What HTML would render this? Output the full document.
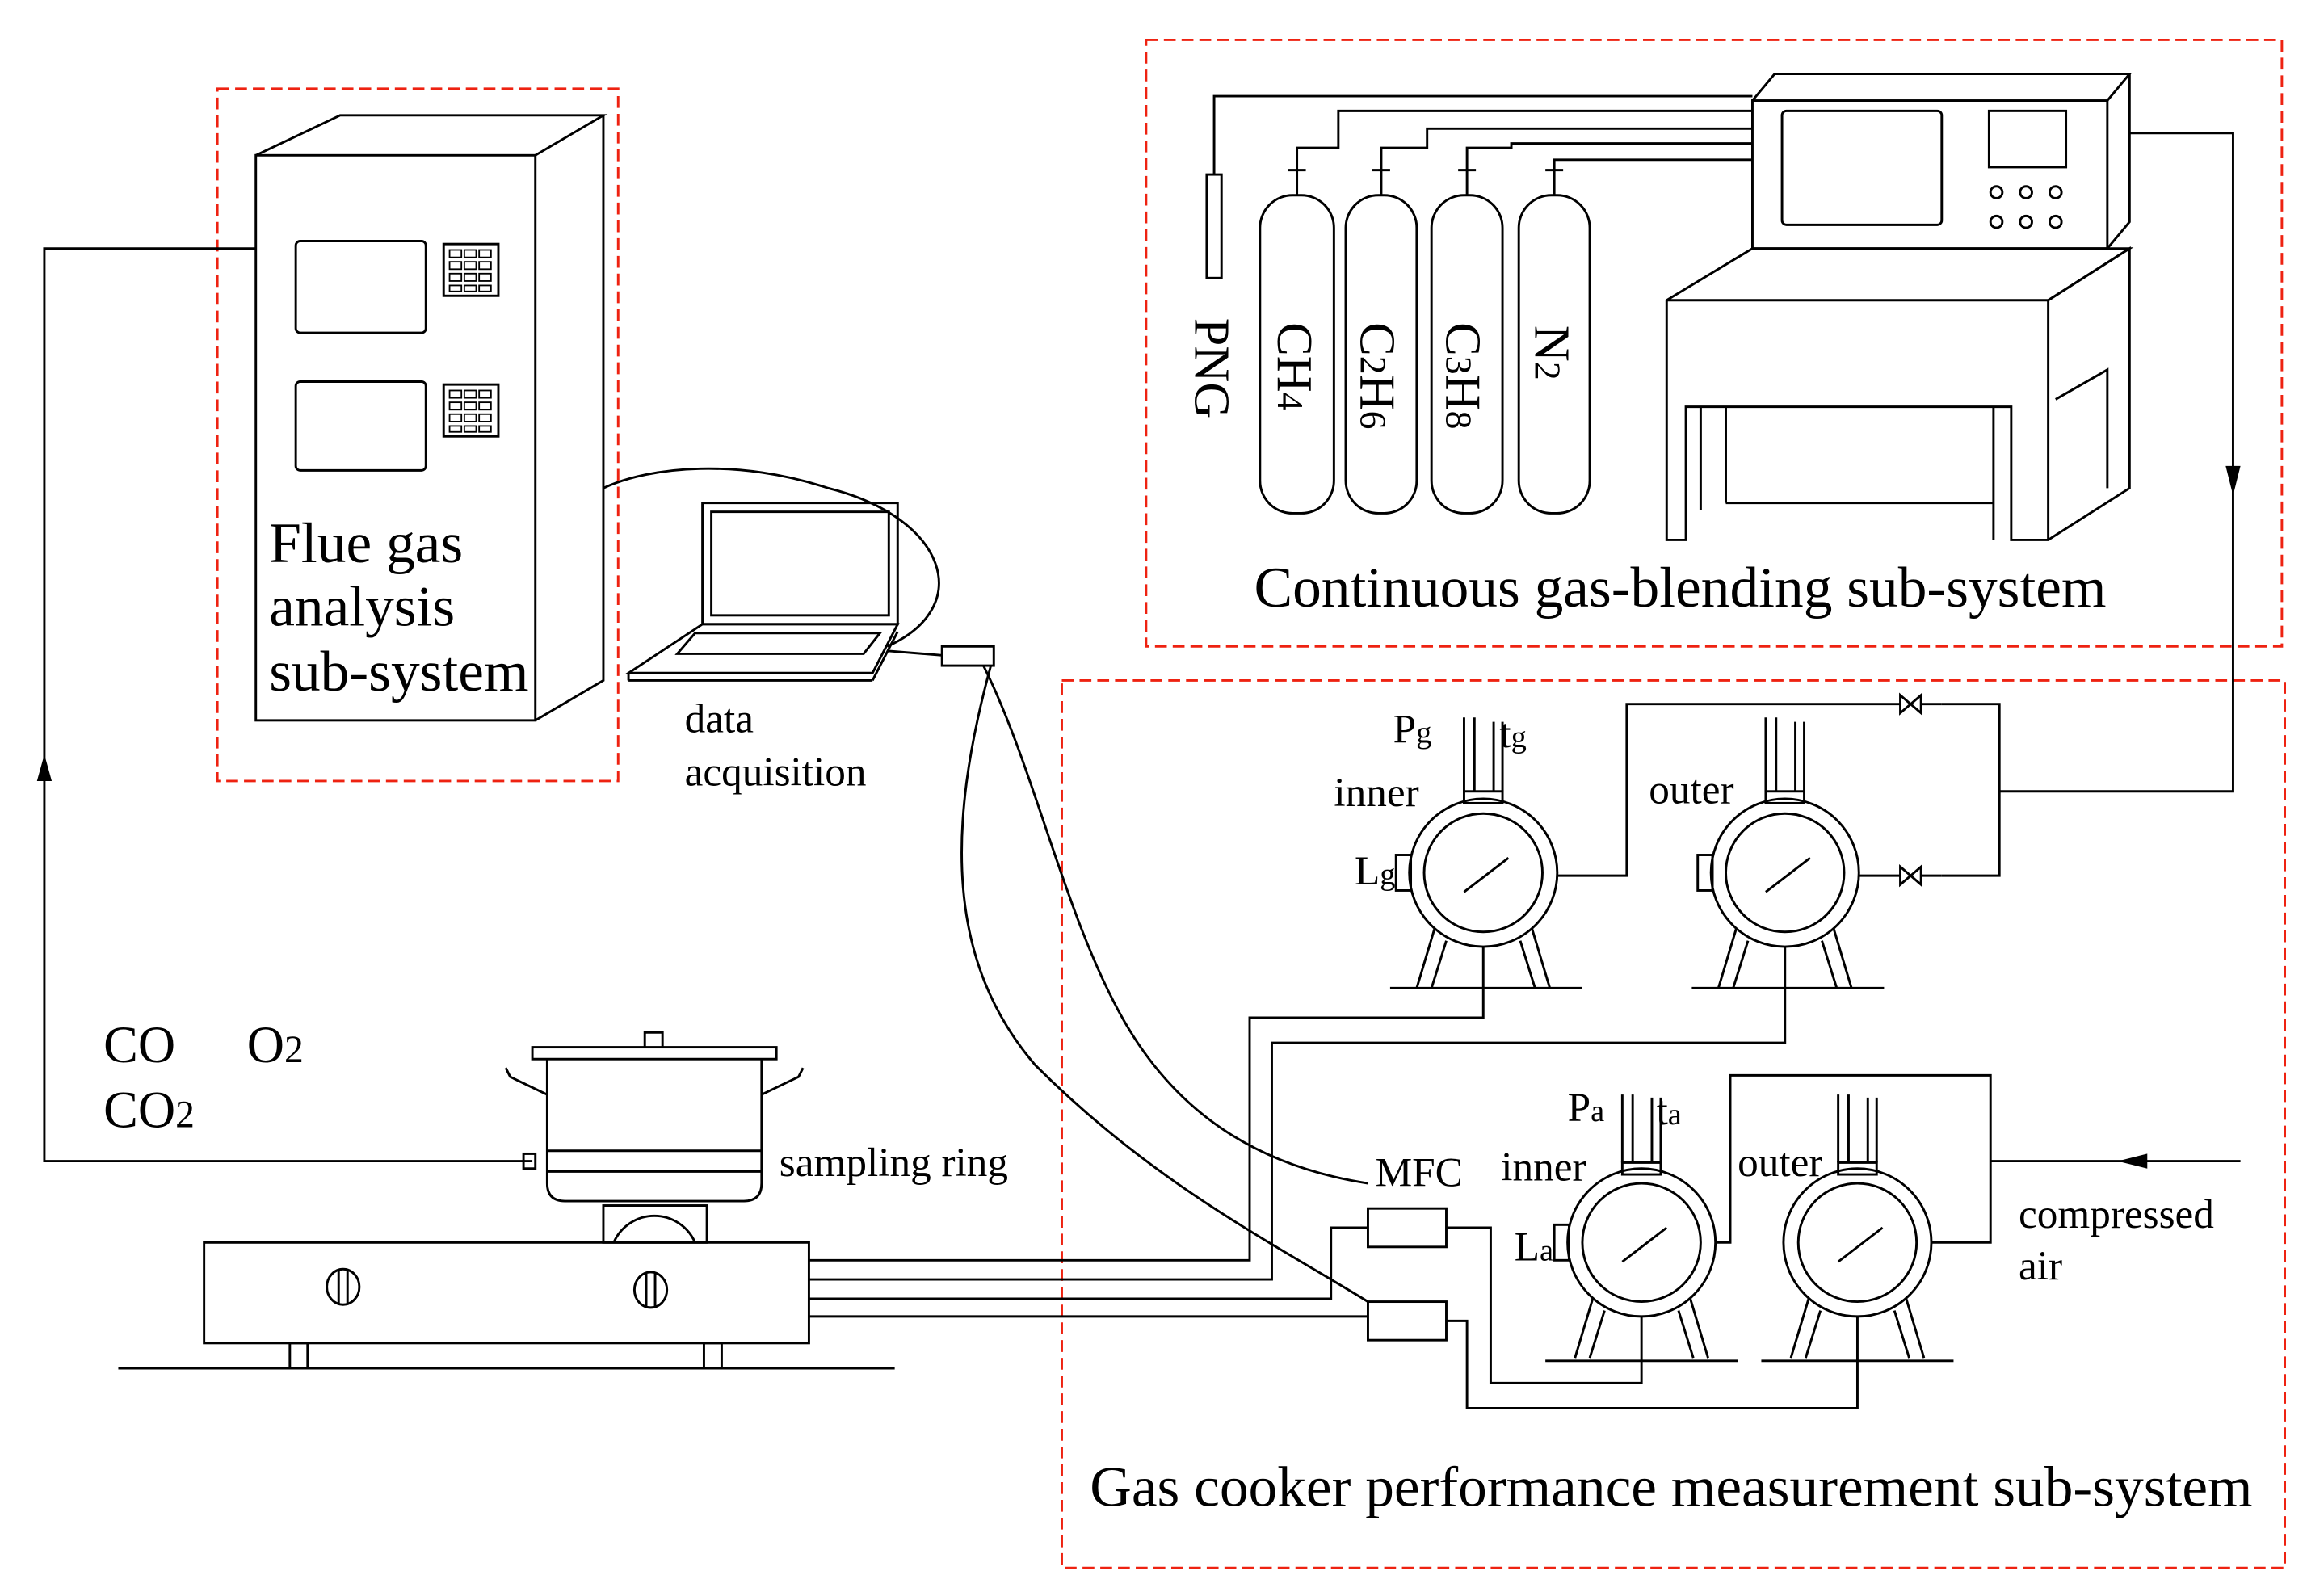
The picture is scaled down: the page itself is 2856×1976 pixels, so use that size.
<!DOCTYPE html>
<html><head><meta charset="utf-8"><style>
html,body{margin:0;padding:0;background:#fff}
svg{display:block}
text{font-family:"Liberation Serif",serif;fill:#000}
</style></head><body>
<svg width="2856" height="1976" viewBox="0 0 1560 1079" preserveAspectRatio="none" xmlns="http://www.w3.org/2000/svg">
<rect width="1560" height="1079" fill="#fff"/>
<g fill="none" stroke="#e21" stroke-width="1.6" stroke-dasharray="8,4">
<rect x="147" y="60" width="271" height="468"/>
<rect x="775" y="27" width="768" height="410"/>
<rect x="718" y="460" width="827" height="600"/>
</g>
<g fill="none" stroke="#000" stroke-width="1.6">
<rect x="173" y="105" width="189" height="382"/>
<polyline points="173,105 230,78 408,78 362,105"/>
<polyline points="408,78 408,460 362,487"/>
<rect x="200" y="163" width="88" height="62" rx="3"/>
<rect x="200" y="258" width="88" height="60" rx="3"/>
<rect x="300" y="165" width="37" height="35"/>
<rect x="300" y="260" width="37" height="35"/>
</g>
<g fill="none" stroke="#000" stroke-width="1">
<rect x="304" y="169" width="8" height="5"/><rect x="314" y="169" width="8" height="5"/><rect x="324" y="169" width="8" height="5"/>
<rect x="304" y="177" width="8" height="5"/><rect x="314" y="177" width="8" height="5"/><rect x="324" y="177" width="8" height="5"/>
<rect x="304" y="185" width="8" height="5"/><rect x="314" y="185" width="8" height="5"/><rect x="324" y="185" width="8" height="5"/>
<rect x="304" y="193" width="8" height="4"/><rect x="314" y="193" width="8" height="4"/><rect x="324" y="193" width="8" height="4"/>
<rect x="304" y="264" width="8" height="5"/><rect x="314" y="264" width="8" height="5"/><rect x="324" y="264" width="8" height="5"/>
<rect x="304" y="272" width="8" height="5"/><rect x="314" y="272" width="8" height="5"/><rect x="324" y="272" width="8" height="5"/>
<rect x="304" y="280" width="8" height="5"/><rect x="314" y="280" width="8" height="5"/><rect x="324" y="280" width="8" height="5"/>
<rect x="304" y="288" width="8" height="4"/><rect x="314" y="288" width="8" height="4"/><rect x="324" y="288" width="8" height="4"/>
</g>
<g fill="none" stroke="#000" stroke-width="1.6">
<polyline points="173,168 30,168 30,785 360,785"/>
<path d="M408,330 C440,315 500,310 560,330 C640,350 660,410 600,437"/>
<rect x="475" y="340" width="132" height="82"/>
<rect x="481" y="346" width="120" height="70"/>
<polygon points="475,422 607,422 590,455 425,455"/>
<line x1="425" y1="455" x2="425" y2="460"/><line x1="425" y1="460" x2="590" y2="460"/><line x1="590" y1="460" x2="607" y2="427"/>
<polygon points="470,428 595,428 584,442 458,442"/>
<line x1="600" y1="440" x2="637" y2="443"/>
<rect x="637" y="437" width="35" height="13"/>
<path d="M665,450 C700,520 720,620 760,690 C800,760 860,790 925,800"/>
<path d="M670,450 C640,560 640,650 700,720 C780,800 860,840 925,880"/>
<rect x="852" y="132" width="50" height="215" rx="22"/>
<rect x="910" y="132" width="48" height="215" rx="22"/>
<rect x="968" y="132" width="48" height="215" rx="22"/>
<rect x="1027" y="132" width="48" height="215" rx="22"/>
<line x1="877" y1="132" x2="877" y2="115"/><line x1="934" y1="132" x2="934" y2="115"/><line x1="992" y1="132" x2="992" y2="115"/><line x1="1051" y1="132" x2="1051" y2="115"/>
<line x1="871" y1="115" x2="883" y2="115"/><line x1="928" y1="115" x2="940" y2="115"/><line x1="986" y1="115" x2="998" y2="115"/><line x1="1045" y1="115" x2="1057" y2="115"/>
<rect x="816" y="118" width="10" height="70"/>
<polyline points="821,118 821,65 1185,65"/>
<polyline points="877,115 877,100 905,100 905,75 1185,75"/>
<polyline points="934,115 934,100 965,100 965,87 1185,87"/>
<polyline points="992,115 992,100 1022,100 1022,97 1185,97"/>
<polyline points="1051,115 1051,108 1185,108"/>
<rect x="1185" y="68" width="240" height="100"/>
<polyline points="1185,68 1200,50 1440,50 1425,68"/>
<polyline points="1440,50 1440,150 1425,168"/>
<rect x="1205" y="75" width="108" height="77" rx="3"/>
<rect x="1345" y="75" width="52" height="38"/>
<circle cx="1350" cy="130" r="4"/><circle cx="1370" cy="130" r="4"/><circle cx="1390" cy="130" r="4"/>
<circle cx="1350" cy="150" r="4"/><circle cx="1370" cy="150" r="4"/><circle cx="1390" cy="150" r="4"/>
<polyline points="1127,203 1185,168 1440,168 1385,203 1127,203"/>
<polyline points="1127,203 1127,365 1140,365 1140,275 1360,275 1360,365 1385,365 1385,203"/>
<line x1="1150" y1="275" x2="1150" y2="345"/><line x1="1167" y1="275" x2="1167" y2="340"/>
<line x1="1167" y1="340" x2="1348" y2="340"/><line x1="1348" y1="275" x2="1348" y2="365"/>
<polyline points="1385,203 1440,168 1440,330 1385,365"/>
<polyline points="1390,270 1425,250 1425,330"/>
<polyline points="1440,90 1510,90 1510,535 1352,535"/>
<circle cx="1003" cy="590" r="50"/><circle cx="1003" cy="590" r="40"/>
<line x1="990" y1="603" x2="1020" y2="580"/>
<rect x="990" y="535" width="26" height="8"/>
<line x1="990" y1="535" x2="990" y2="485"/><line x1="997" y1="535" x2="997" y2="485"/><line x1="1010" y1="535" x2="1010" y2="488"/><line x1="1016" y1="535" x2="1016" y2="488"/>
<rect x="944" y="578" width="10" height="24"/>
<polyline points="970,628 958,668"/><polyline points="1036,628 1048,668"/><polyline points="978,636 968,668"/><polyline points="1028,636 1038,668"/>
<line x1="940" y1="668" x2="1070" y2="668"/>
<circle cx="1207" cy="590" r="50"/><circle cx="1207" cy="590" r="40"/>
<line x1="1194" y1="603" x2="1224" y2="580"/>
<rect x="1194" y="535" width="26" height="8"/>
<line x1="1194" y1="535" x2="1194" y2="485"/><line x1="1201" y1="535" x2="1201" y2="485"/><line x1="1214" y1="535" x2="1214" y2="488"/><line x1="1220" y1="535" x2="1220" y2="488"/>
<rect x="1148" y="578" width="10" height="24"/>
<polyline points="1174,628 1162,668"/><polyline points="1240,628 1252,668"/><polyline points="1182,636 1172,668"/><polyline points="1232,636 1242,668"/>
<line x1="1144" y1="668" x2="1274" y2="668"/>
<polyline points="1053,592 1100,592 1100,476 1285,476"/>
<polyline points="1257,592 1285,592"/>
<polyline points="1313,476 1352,476 1352,592 1313,592"/>
<path d="M1285,470 L1299,482 L1299,470 L1285,482 Z"/>
<path d="M1285,586 L1299,598 L1299,586 L1285,598 Z"/>
<line x1="1299" y1="476" x2="1313" y2="476"/><line x1="1299" y1="592" x2="1313" y2="592"/>
<circle cx="1110" cy="840" r="50"/><circle cx="1110" cy="840" r="40"/>
<line x1="1097" y1="853" x2="1127" y2="830"/>
<rect x="1097" y="786" width="26" height="8"/>
<line x1="1097" y1="786" x2="1097" y2="740"/><line x1="1104" y1="786" x2="1104" y2="740"/><line x1="1117" y1="786" x2="1117" y2="742"/><line x1="1123" y1="786" x2="1123" y2="742"/>
<rect x="1051" y="828" width="10" height="24"/>
<polyline points="1077,878 1065,918"/><polyline points="1143,878 1155,918"/><polyline points="1085,886 1075,918"/><polyline points="1135,886 1145,918"/>
<line x1="1045" y1="920" x2="1175" y2="920"/>
<circle cx="1256" cy="840" r="50"/><circle cx="1256" cy="840" r="40"/>
<line x1="1243" y1="853" x2="1273" y2="830"/>
<rect x="1243" y="786" width="26" height="8"/>
<line x1="1243" y1="786" x2="1243" y2="740"/><line x1="1250" y1="786" x2="1250" y2="740"/><line x1="1263" y1="786" x2="1263" y2="742"/><line x1="1269" y1="786" x2="1269" y2="742"/>
<polyline points="1223,878 1211,918"/><polyline points="1289,878 1301,918"/><polyline points="1231,886 1221,918"/><polyline points="1281,886 1291,918"/>
<line x1="1191" y1="920" x2="1321" y2="920"/>
<polyline points="1160,840 1170,840 1170,727 1346,727 1346,840 1306,840"/>
<line x1="1346" y1="785" x2="1515" y2="785"/>
<rect x="925" y="817" width="53" height="26"/>
<rect x="925" y="880" width="53" height="26"/>
<polyline points="978,830 1008,830 1008,935 1110,935 1110,890"/>
<polyline points="978,893 992,893 992,952 1256,952 1256,890"/>
<polyline points="547,852 845,852 845,688 1003,688 1003,640"/>
<polyline points="547,865 860,865 860,705 1207,705 1207,640"/>
<polyline points="547,878 900,878 900,830 925,830"/>
<polyline points="547,890 925,890"/>
<rect x="138" y="840" width="409" height="68"/>
<line x1="80" y1="925" x2="605" y2="925"/>
<rect x="196" y="908" width="12" height="17"/><rect x="476" y="908" width="12" height="17"/>
<ellipse cx="232" cy="870" rx="11" ry="12"/><line x1="229" y1="859" x2="229" y2="881"/><line x1="235" y1="859" x2="235" y2="881"/>
<ellipse cx="440" cy="872" rx="11" ry="12"/><line x1="437" y1="861" x2="437" y2="883"/><line x1="443" y1="861" x2="443" y2="883"/>
<rect x="408" y="815" width="70" height="25"/>
<path d="M415,840 A30,30 0 0 1 470,840"/>
<rect x="360" y="708" width="165" height="8"/>
<path d="M370,716 L370,800 Q370,812 382,812 L503,812 Q515,812 515,800 L515,716"/>
<line x1="370" y1="778" x2="515" y2="778"/><line x1="370" y1="792" x2="515" y2="792"/>
<path d="M436,708 L436,698 L448,698 L448,708"/>
<path d="M370,740 L345,728 L342,722"/><path d="M515,740 L540,728 L543,722"/>
<rect x="354" y="780" width="8" height="10"/>
</g>
<g fill="#000">
<polygon points="30,510 25,528 35,528"/>
<polygon points="1510,335 1505,315 1515,315"/>
<polygon points="1432,785 1452,780 1452,790"/>
</g>
<g font-size="39">
<text x="182" y="380">Flue gas</text>
<text x="182" y="423">analysis</text>
<text x="182" y="467">sub-system</text>
<text x="848" y="410">Continuous gas-blending sub-system</text>
<text x="737" y="1018">Gas cooker performance measurement sub-system</text>
</g>
<g font-size="35">
<text x="70" y="718">CO</text>
<text x="167" y="718">O<tspan font-size="26">2</tspan></text>
<text x="70" y="762">CO<tspan font-size="26">2</tspan></text>
</g>
<g font-size="28">
<text x="463" y="495">data</text>
<text x="463" y="531">acquisition</text>
<text x="527" y="795">sampling ring</text>
<text x="930" y="802">MFC</text>
<text x="1015" y="798">inner</text>
<text x="1175" y="795">outer</text>
<text x="1024" y="852">L<tspan font-size="21">a</tspan></text>
<text x="1060" y="758">P<tspan font-size="21">a</tspan></text>
<text x="1120" y="760">t<tspan font-size="21">a</tspan></text>
<text x="1365" y="830">compressed</text>
<text x="1365" y="865">air</text>
<text x="902" y="545">inner</text>
<text x="1115" y="543">outer</text>
<text x="916" y="598">L<tspan font-size="21">g</tspan></text>
<text x="942" y="502">P<tspan font-size="21">g</tspan></text>
<text x="1014" y="505">t<tspan font-size="21">g</tspan></text>
</g>
<g font-size="34">
<text transform="translate(808,215) rotate(90)">PNG</text>
<text transform="translate(864,218) rotate(90)">CH<tspan font-size="25">4</tspan></text>
<text transform="translate(920,218) rotate(90)">C<tspan font-size="25">2</tspan>H<tspan font-size="25">6</tspan></text>
<text transform="translate(978,218) rotate(90)">C<tspan font-size="25">3</tspan>H<tspan font-size="25">8</tspan></text>
<text transform="translate(1038,220) rotate(90)">N<tspan font-size="25">2</tspan></text>
</g>
</svg>
</body></html>
